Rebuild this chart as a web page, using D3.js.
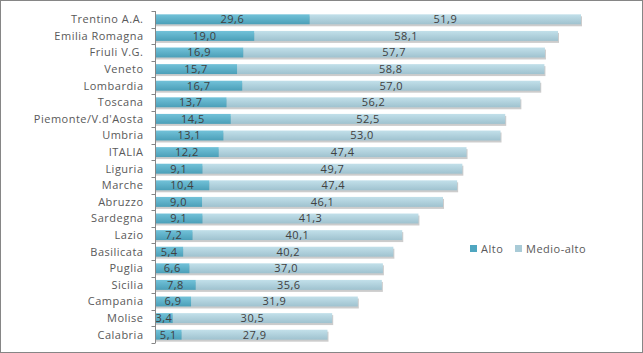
<!DOCTYPE html>
<html>
<head>
<meta charset="utf-8">
<script src="https://cdn.jsdelivr.net/npm/d3@7"></script>
<style>
  body { margin: 0; background: #fff; }
  svg { display: block; font-family: "Open Sans", "Noto Sans", "DejaVu Sans", sans-serif; letter-spacing: 0.5px; }
</style>
</head>
<body>
<div id="chart"></div>
<script>
const regions = ["Trentino A.A.", "Emilia Romagna", "Friuli V.G.", "Veneto", "Lombardia",
  "Toscana", "Piemonte/V.d'Aosta", "Umbria", "ITALIA", "Liguria", "Marche", "Abruzzo",
  "Sardegna", "Lazio", "Basilicata", "Puglia", "Sicilia", "Campania", "Molise", "Calabria"];
const alto = [29.6, 19.0, 16.9, 15.7, 16.7, 13.7, 14.5, 13.1, 12.2, 9.1, 10.4, 9.0,
  9.1, 7.2, 5.4, 6.6, 7.8, 6.9, 3.4, 5.1];
const medioAlto = [51.9, 58.1, 57.7, 58.8, 57.0, 56.2, 52.5, 53.0, 47.4, 49.7, 47.4, 46.1,
  41.3, 40.1, 40.2, 37.0, 35.6, 31.9, 30.5, 27.9];
const seriesNames = ["Alto", "Medio-alto"];

const W = 643, H = 353;
const margin = { top: 11, left: 155, bottom: 10 };
const fmt = v => v.toFixed(1).replace(".", ",");

const svg = d3.select("#chart").append("svg").attr("width", W).attr("height", H);

const defs = svg.append("defs");
function grad(id, top, bottom) {
  const g = defs.append("linearGradient").attr("id", id)
    .attr("x1", 0).attr("y1", 0).attr("x2", 0).attr("y2", 1);
  g.append("stop").attr("offset", "0%").attr("stop-color", top);
  g.append("stop").attr("offset", "100%").attr("stop-color", bottom);
}
grad("gAlto", "#72c2d9", "#4b9fb8");
grad("gMedio", "#c2e0ea", "#9fc2cf");
const fill = ["url(#gAlto)", "url(#gMedio)"];
const legendFill = ["#4fa6c0", "#a9cbd7"];

// outer frame
svg.append("rect").attr("x", 0.5).attr("y", 0.5).attr("width", W - 1).attr("height", H - 1)
  .attr("fill", "none").attr("stroke", "#868686");

const x = d3.scaleLinear().domain([0, 81.5]).range([margin.left, 581]);
const y = d3.scaleBand().domain(regions).range([margin.top, 343]).paddingInner(0.4).paddingOuter(0.2);

const rows = regions.map((r, i) => ({ r, a: alto[i], m: medioAlto[i] }));

const g = svg.append("g");
// shadows
g.selectAll("rect.shadow").data(rows).enter().append("rect")
  .attr("x", d => x(0) + 1)
  .attr("y", d => y(d.r) + 2)
  .attr("width", d => x(d.a + d.m) - x(0))
  .attr("height", y.bandwidth())
  .attr("fill", "#9a9a9a").attr("opacity", 0.5);

g.selectAll("rect.medio").data(rows).enter().append("rect")
  .attr("x", d => x(d.a))
  .attr("y", d => y(d.r))
  .attr("width", d => x(d.a + d.m) - x(d.a))
  .attr("height", y.bandwidth())
  .attr("fill", fill[1]);

g.selectAll("rect.alto").data(rows).enter().append("rect")
  .attr("x", x(0))
  .attr("y", d => y(d.r))
  .attr("width", d => x(d.a) - x(0))
  .attr("height", y.bandwidth())
  .attr("fill", fill[0]);

// data labels
const lbl = g.append("g").attr("font-size", 11).attr("fill", "#404040").attr("text-anchor", "middle");
lbl.selectAll("text.a").data(rows).enter().append("text")
  .attr("x", d => (x(0) + x(d.a)) / 2)
  .attr("y", d => y(d.r) + y.bandwidth() / 2)
  .attr("dy", "0.36em")
  .text(d => fmt(d.a));
lbl.selectAll("text.m").data(rows).enter().append("text")
  .attr("x", d => (x(d.a) + x(d.a + d.m)) / 2)
  .attr("y", d => y(d.r) + y.bandwidth() / 2)
  .attr("dy", "0.36em")
  .text(d => fmt(d.m));

// y axis
const yAxisBand = d3.scaleBand().domain(regions).range([margin.top, 343]);
const ax = svg.append("g").attr("transform", `translate(${margin.left + 0.5},0)`);
ax.append("line").attr("y1", margin.top).attr("y2", 343).attr("stroke", "#868686");
const ticks = d3.range(regions.length + 1).map(i => margin.top + i * yAxisBand.step());
ax.selectAll("line.t").data(ticks).enter().append("line")
  .attr("x1", -4).attr("x2", 0)
  .attr("y1", d => Math.round(d) + 0.5).attr("y2", d => Math.round(d) + 0.5)
  .attr("stroke", "#868686");
ax.selectAll("text").data(regions).enter().append("text")
  .attr("x", -12)
  .attr("y", d => yAxisBand(d) + yAxisBand.bandwidth() / 2)
  .attr("dy", "0.36em")
  .attr("text-anchor", "end")
  .attr("font-size", 11)
  .attr("fill", "#595959")
  .text(d => d);

// legend
const leg = svg.append("g").attr("transform", "translate(470,249)");
const lx = [0, 45];
seriesNames.forEach((s, i) => {
  leg.append("rect").attr("x", lx[i]).attr("y", -4).attr("width", 7).attr("height", 7)
    .attr("fill", legendFill[i]);
  leg.append("text").attr("x", lx[i] + 11).attr("y", 0).attr("dy", "0.36em")
    .attr("font-size", 11).attr("fill", "#595959").text(s);
});
</script>
</body>
</html>
